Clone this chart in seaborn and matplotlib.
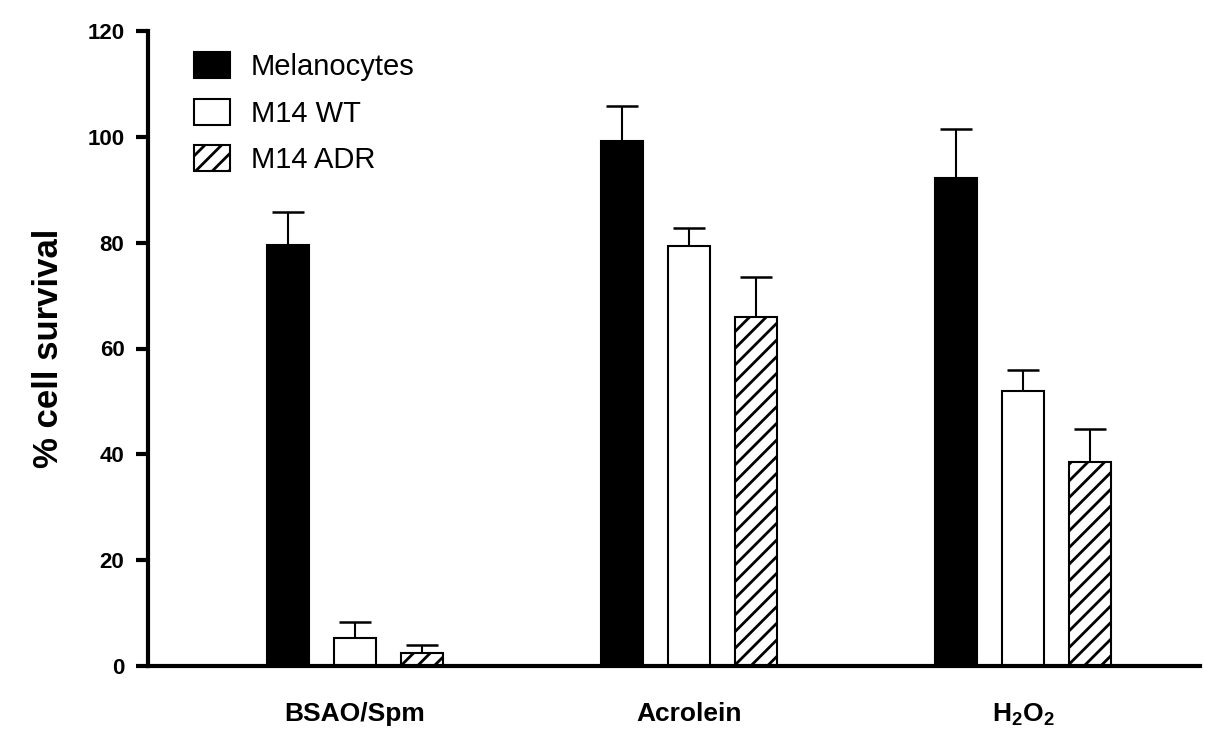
import numpy as np
import pandas as pd
import matplotlib
matplotlib.use("Agg")
import matplotlib.pyplot as plt
import seaborn as sns

# ---- data ----
treatments = ["BSAO/Spm", "Acrolein", r"$\mathbf{H_2O_2}$"]
cell_lines = ["Melanocytes", "M14 WT", "M14 ADR"]
melanocytes = [79.5, 99.2, 92.2]
m14_wt = [5.3, 79.4, 52.0]
m14_adr = [2.5, 66.0, 38.6]
melanocytes_err = [6.3, 6.6, 9.3]
m14_wt_err = [3.1, 3.3, 4.0]
m14_adr_err = [1.4, 7.6, 6.1]
y_ticks = [0, 20, 40, 60, 80, 100, 120]

series = {"Melanocytes": melanocytes, "M14 WT": m14_wt, "M14 ADR": m14_adr}
errors = {"Melanocytes": melanocytes_err, "M14 WT": m14_wt_err, "M14 ADR": m14_adr_err}

rows = []
for line in cell_lines:
    for t, v in zip(treatments, series[line]):
        rows.append({"treatment": t, "line": line, "value": v})
df = pd.DataFrame(rows)

sns.set_theme(style="white")
plt.rcParams['font.family'] = ['Liberation Sans', 'DejaVu Sans']
plt.rcParams['mathtext.fontset'] = 'custom'
plt.rcParams['mathtext.rm'] = 'Liberation Sans'
plt.rcParams['mathtext.bf'] = 'Liberation Sans:bold'
plt.rcParams['hatch.linewidth'] = 2.0
plt.rcParams['hatch.color'] = 'black'
for k in ['text.color', 'axes.labelcolor', 'xtick.color', 'ytick.color']:
    plt.rcParams[k] = 'black'

fig = plt.figure(figsize=(12.05, 7.52), dpi=100)
ax = fig.add_axes([148 / 1205, 1 - 666 / 752, (1200 - 148) / 1205, (666 - 31) / 752])

sns.barplot(data=df, x="treatment", y="value", hue="line", order=treatments,
            hue_order=cell_lines, palette=["black", "white", "white"],
            edgecolor="black", linewidth=1.5, width=0.6, gap=0.37,
            errorbar=None, legend=False, ax=ax)

for container, line in zip(ax.containers, cell_lines):
    xs = [b.get_x() + b.get_width() / 2 for b in container]
    ys = [b.get_height() for b in container]
    errs = errors[line]
    eb = ax.errorbar(xs, ys, yerr=[np.zeros(len(errs)), errs], fmt="none",
                     ecolor="black", elinewidth=1.5, capsize=11.5, capthick=1.8, zorder=1)
    caplines = eb[1]
    if len(caplines) > 1:
        caplines[0].set_visible(False)
    if line == "M14 ADR":
        for b in container:
            b.set_hatch("//")

ax.set_xlim(-0.62, 2.53)
ax.set_ylim(0, 120)
ax.set_yticks(y_ticks)
ax.set_yticklabels([str(v) for v in y_ticks], fontsize=16, fontweight="bold")
ax.tick_params(axis="y", left=True, direction="out", length=9, width=3, pad=8, colors="black")
ax.tick_params(axis="x", bottom=False, pad=20, colors="black")
for lbl in ax.get_xticklabels():
    lbl.set_fontsize(19)
    lbl.set_fontweight("bold")
ax.set_xlabel("")
ax.set_ylabel("% cell survival", fontsize=25, fontweight="bold", labelpad=16, color="black")

for s in ["top", "right"]:
    ax.spines[s].set_visible(False)
for s in ["left", "bottom"]:
    ax.spines[s].set_color("black")
    ax.spines[s].set_linewidth(3)

leg = ax.legend(handles=ax.containers, labels=cell_lines, loc="upper left",
                bbox_to_anchor=(194 / 1205, 1 - 52 / 752), bbox_transform=fig.transFigure,
                frameon=False, fontsize=21, handlelength=1.25, handleheight=1.0,
                handletextpad=0.7, labelspacing=0.6, borderpad=0, borderaxespad=0)
for t in leg.get_texts():
    t.set_color("black")

fig.savefig("out.png", dpi=100)
